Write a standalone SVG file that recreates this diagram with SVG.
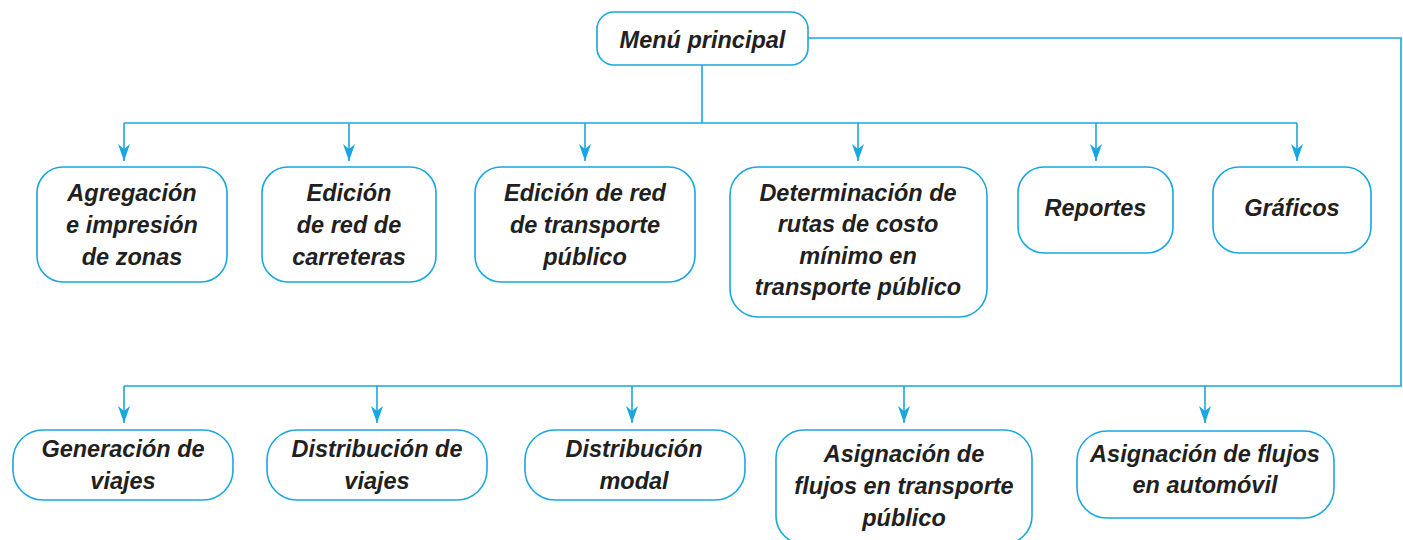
<svg xmlns="http://www.w3.org/2000/svg" width="1403" height="540" viewBox="0 0 1403 540">
<style>
.box{fill:#fff;stroke:#1aa7e0;stroke-width:1.6}
.ln{fill:none;stroke:#1aa7e0;stroke-width:1.6}
.t{font-family:"Liberation Sans",Arial,sans-serif;font-weight:bold;font-style:italic;font-size:23.5px;fill:#231f20;text-anchor:middle}
</style>
<defs>
<marker id="ah" viewBox="0 0 17 12" refX="17" refY="6" markerWidth="17" markerHeight="12" markerUnits="userSpaceOnUse" orient="auto">
<path d="M0,0 L17,6 L0,12 L5,6 Z" fill="#1aa7e0"/>
</marker>
</defs>
<rect width="1403" height="540" fill="#fff"/>
<g id="connectors">
<path class="ln" d="M702,65 V123"/>
<path class="ln" d="M124,123 H1297"/>
<path class="ln" d="M124,123 V161" marker-end="url(#ah)"/>
<path class="ln" d="M349,123 V161" marker-end="url(#ah)"/>
<path class="ln" d="M585,123 V161" marker-end="url(#ah)"/>
<path class="ln" d="M858,123 V161" marker-end="url(#ah)"/>
<path class="ln" d="M1096,123 V161" marker-end="url(#ah)"/>
<path class="ln" d="M1297,123 V161" marker-end="url(#ah)"/>
<path class="ln" d="M808,38 H1401 V386 H124"/>
<path class="ln" d="M124,386 V423" marker-end="url(#ah)"/>
<path class="ln" d="M377,386 V423" marker-end="url(#ah)"/>
<path class="ln" d="M632,386 V423" marker-end="url(#ah)"/>
<path class="ln" d="M904,386 V423" marker-end="url(#ah)"/>
<path class="ln" d="M1205,386 V423" marker-end="url(#ah)"/>
</g>
<g id="menu">
<rect class="box" x="597" y="12" width="211" height="53" rx="17"/>
<text class="t" x="702.5" y="48">Menú principal</text>
</g>
<g id="agregacion">
<rect class="box" x="37" y="167" width="190" height="115" rx="26"/>
<text class="t" x="132" y="201">Agregación</text>
<text class="t" x="132" y="233">e impresión</text>
<text class="t" x="132" y="265">de zonas</text>
</g>
<g id="edicion-carreteras">
<rect class="box" x="262" y="167" width="174" height="115" rx="26"/>
<text class="t" x="349" y="201">Edición</text>
<text class="t" x="349" y="233">de red de</text>
<text class="t" x="349" y="265">carreteras</text>
</g>
<g id="edicion-transporte">
<rect class="box" x="475" y="167" width="220" height="115" rx="26"/>
<text class="t" x="585" y="201">Edición de red</text>
<text class="t" x="585" y="233">de transporte</text>
<text class="t" x="585" y="265">público</text>
</g>
<g id="determinacion">
<rect class="box" x="730" y="167" width="257" height="150" rx="28"/>
<text class="t" x="858" y="201">Determinación de</text>
<text class="t" x="858" y="232">rutas de costo</text>
<text class="t" x="858" y="264">mínimo en</text>
<text class="t" x="858" y="295">transporte público</text>
</g>
<g id="reportes">
<rect class="box" x="1018" y="167" width="155" height="86" rx="26"/>
<text class="t" x="1095.5" y="216">Reportes</text>
</g>
<g id="graficos">
<rect class="box" x="1213" y="167" width="158" height="86" rx="26"/>
<text class="t" x="1292" y="216">Gráficos</text>
</g>
<g id="generacion">
<rect class="box" x="13" y="430" width="220" height="70" rx="30"/>
<text class="t" x="123" y="457">Generación de</text>
<text class="t" x="123" y="489">viajes</text>
</g>
<g id="distribucion-viajes">
<rect class="box" x="267" y="430" width="220" height="70" rx="30"/>
<text class="t" x="377" y="457">Distribución de</text>
<text class="t" x="377" y="489">viajes</text>
</g>
<g id="distribucion-modal">
<rect class="box" x="525" y="430" width="220" height="70" rx="30"/>
<text class="t" x="634" y="457">Distribución</text>
<text class="t" x="634" y="489">modal</text>
</g>
<g id="asignacion-transporte">
<rect class="box" x="776" y="430" width="256" height="114" rx="28"/>
<text class="t" x="904" y="462">Asignación de</text>
<text class="t" x="904" y="494">flujos en transporte</text>
<text class="t" x="904" y="526">público</text>
</g>
<g id="asignacion-automovil">
<rect class="box" x="1077" y="431" width="257" height="87" rx="30"/>
<text class="t" x="1205" y="462">Asignación de flujos</text>
<text class="t" x="1205" y="493">en automóvil</text>
</g>
</svg>
